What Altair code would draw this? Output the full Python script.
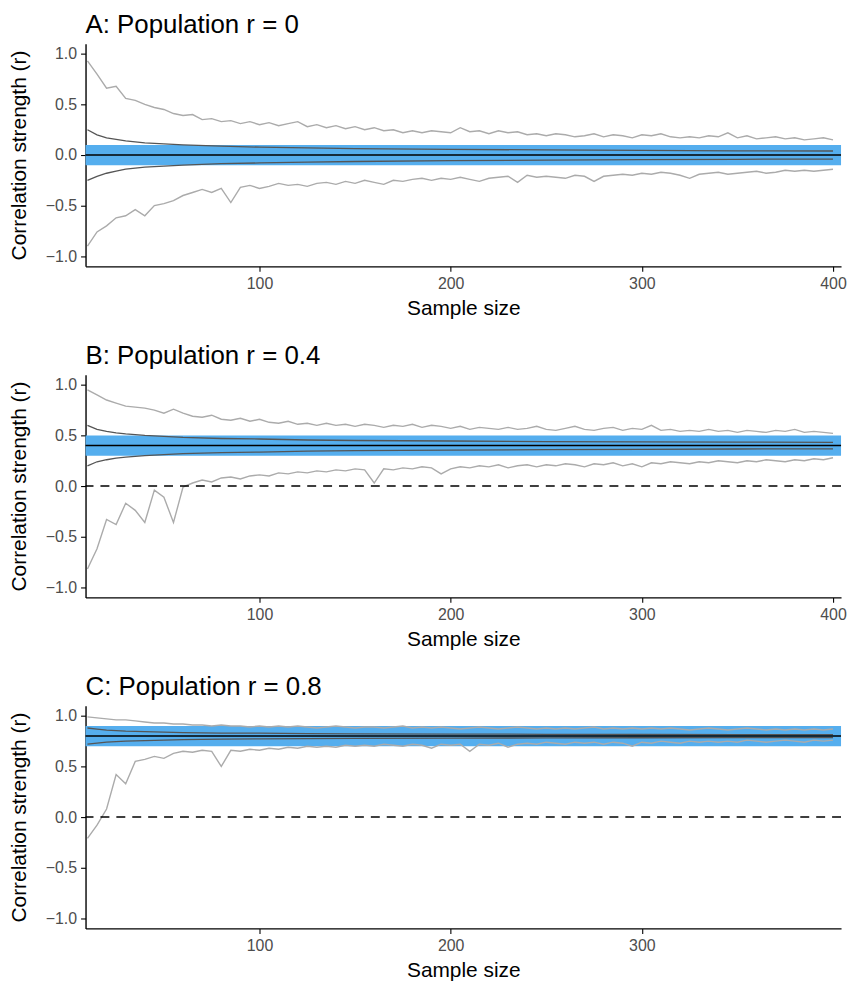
import altair as alt
import pandas as pd

FONT = "Liberation Sans"

# sample sizes for the envelope (max / min) lines
N = list(range(10, 401, 5))

A_MAX = [0.93, 0.80, 0.66, 0.68, 0.56, 0.54, 0.50, 0.47, 0.45, 0.41,
         0.39, 0.40, 0.35, 0.36, 0.33, 0.34, 0.31, 0.33, 0.30, 0.32,
         0.29, 0.31, 0.33, 0.28, 0.30, 0.27, 0.29, 0.26, 0.28, 0.25,
         0.27, 0.24, 0.25, 0.22, 0.24, 0.22, 0.24, 0.23, 0.22, 0.27,
         0.23, 0.24, 0.21, 0.24, 0.22, 0.23, 0.20, 0.21, 0.19, 0.21,
         0.20, 0.18, 0.19, 0.21, 0.18, 0.20, 0.19, 0.17, 0.20, 0.19,
         0.21, 0.18, 0.17, 0.18, 0.17, 0.19, 0.18, 0.22, 0.17, 0.19,
         0.16, 0.17, 0.18, 0.16, 0.17, 0.15, 0.16, 0.17, 0.15]
A_MIN = [-0.90, -0.76, -0.70, -0.62, -0.60, -0.54, -0.60, -0.50, -0.48, -0.45,
         -0.40, -0.37, -0.34, -0.37, -0.33, -0.47, -0.32, -0.30, -0.33, -0.31,
         -0.28, -0.30, -0.29, -0.31, -0.28, -0.27, -0.29, -0.26, -0.28, -0.25,
         -0.27, -0.29, -0.25, -0.26, -0.24, -0.23, -0.25, -0.23, -0.24, -0.22,
         -0.24, -0.26, -0.23, -0.22, -0.21, -0.27, -0.20, -0.22, -0.21, -0.22,
         -0.23, -0.20, -0.21, -0.26, -0.21, -0.20, -0.19, -0.20, -0.18, -0.19,
         -0.17, -0.18, -0.20, -0.23, -0.19, -0.18, -0.17, -0.19, -0.18, -0.17,
         -0.16, -0.18, -0.17, -0.15, -0.16, -0.15, -0.16, -0.15, -0.14]

B_MAX = [0.95, 0.90, 0.85, 0.82, 0.79, 0.78, 0.77, 0.75, 0.72, 0.76,
         0.72, 0.69, 0.68, 0.70, 0.66, 0.65, 0.67, 0.64, 0.66, 0.63,
         0.62, 0.64, 0.61, 0.62, 0.60, 0.62, 0.60, 0.61, 0.59, 0.61,
         0.60, 0.58, 0.60, 0.59, 0.61, 0.58, 0.60, 0.59, 0.57, 0.59,
         0.56, 0.58, 0.57, 0.56, 0.58, 0.56, 0.57, 0.59, 0.56, 0.55,
         0.57, 0.59, 0.56, 0.55, 0.57, 0.58, 0.55, 0.57, 0.56, 0.60,
         0.55, 0.56, 0.54, 0.55, 0.54, 0.56, 0.54, 0.55, 0.53, 0.55,
         0.54, 0.53, 0.55, 0.54, 0.56, 0.53, 0.54, 0.53, 0.52]
B_MIN = [-0.82, -0.62, -0.33, -0.38, -0.17, -0.24, -0.36, -0.04, -0.11, -0.36,
         -0.01, 0.03, 0.06, 0.04, 0.08, 0.09, 0.07, 0.10, 0.11, 0.10,
         0.13, 0.12, 0.14, 0.13, 0.15, 0.14, 0.16, 0.15, 0.17, 0.16,
         0.03, 0.17, 0.16, 0.18, 0.17, 0.19, 0.18, 0.12, 0.17, 0.19,
         0.18, 0.20, 0.19, 0.21, 0.18, 0.20, 0.21, 0.19, 0.21, 0.20,
         0.22, 0.21, 0.19, 0.22, 0.21, 0.23, 0.20, 0.22, 0.19, 0.23,
         0.22, 0.24, 0.23, 0.22, 0.24, 0.23, 0.25, 0.24, 0.23, 0.25,
         0.24, 0.26, 0.25, 0.24, 0.26, 0.25, 0.27, 0.26, 0.28]

C_MAX = [0.99, 0.98, 0.97, 0.96, 0.96, 0.95, 0.94, 0.93, 0.93, 0.92,
         0.92, 0.91, 0.91, 0.90, 0.91, 0.90, 0.90, 0.89, 0.90, 0.89,
         0.90, 0.89, 0.90, 0.89, 0.88, 0.89, 0.90, 0.89, 0.88, 0.89,
         0.89, 0.88, 0.89, 0.90, 0.88, 0.89, 0.88, 0.89, 0.88, 0.87,
         0.88, 0.89, 0.88, 0.87, 0.88, 0.89, 0.88, 0.87, 0.88, 0.87,
         0.88, 0.87, 0.88, 0.89, 0.87, 0.88, 0.87, 0.88, 0.87, 0.88,
         0.87, 0.88, 0.87, 0.86, 0.87, 0.88, 0.87, 0.86, 0.87, 0.88,
         0.87, 0.86, 0.87, 0.86, 0.87, 0.86, 0.87, 0.86, 0.87]
C_MIN = [-0.21, -0.08, 0.08, 0.42, 0.33, 0.55, 0.57, 0.60, 0.58, 0.63,
         0.65, 0.64, 0.66, 0.65, 0.50, 0.66, 0.65, 0.67, 0.66, 0.68,
         0.67, 0.69, 0.68, 0.70, 0.69, 0.70, 0.69, 0.71, 0.70, 0.71,
         0.70, 0.72, 0.71, 0.70, 0.72, 0.71, 0.68, 0.72, 0.71, 0.72,
         0.65, 0.72, 0.71, 0.73, 0.69, 0.72, 0.73, 0.72, 0.74, 0.73,
         0.72, 0.74, 0.73, 0.74, 0.72, 0.74, 0.73, 0.70, 0.74, 0.73,
         0.75, 0.74, 0.73, 0.75, 0.74, 0.75, 0.74, 0.75, 0.74, 0.76,
         0.75, 0.74, 0.75, 0.76, 0.75, 0.74, 0.76, 0.75, 0.76]

# sample sizes for the smooth inner (dark grey) lines
INNER_N = [10, 15, 20, 25, 30, 40, 50, 60, 80, 100, 125, 150, 200, 250, 300, 350, 400]
A_UP = [0.25, 0.20, 0.17, 0.155, 0.14, 0.12, 0.11, 0.10, 0.088, 0.078, 0.07, 0.064, 0.056, 0.05, 0.046, 0.042, 0.04]
A_LO = [-0.25, -0.21, -0.18, -0.16, -0.14, -0.12, -0.11, -0.10, -0.085, -0.078, -0.07, -0.064, -0.056, -0.05, -0.046, -0.042, -0.04]
B_UP = [0.60, 0.56, 0.54, 0.525, 0.515, 0.50, 0.49, 0.48, 0.47, 0.465, 0.455, 0.45, 0.445, 0.44, 0.437, 0.434, 0.432]
B_LO = [0.20, 0.24, 0.26, 0.275, 0.285, 0.30, 0.31, 0.32, 0.33, 0.335, 0.345, 0.35, 0.355, 0.36, 0.363, 0.366, 0.368]
C_UP = [0.88, 0.87, 0.86, 0.855, 0.85, 0.845, 0.84, 0.835, 0.83, 0.83, 0.825, 0.823, 0.82, 0.818, 0.816, 0.815, 0.814]
C_LO = [0.72, 0.73, 0.74, 0.745, 0.75, 0.755, 0.76, 0.765, 0.77, 0.772, 0.775, 0.778, 0.78, 0.782, 0.784, 0.785, 0.786]

TITLES = ["A: Population r = 0", "B: Population r = 0.4", "C: Population r = 0.8"]
POP_R = [0.0, 0.4, 0.8]
X_TICKS = [[100, 200, 300, 400], [100, 200, 300, 400], [100, 200, 300]]
Y_TICKS = [-1.0, -0.5, 0.0, 0.5, 1.0]
BAND_HALF = 0.1
X_DOMAIN = [9, 404.2]
Y_DOMAIN = [-1.1, 1.1]

W, H = 760, 224
BLUE = "#55AEEE"
LIGHT = "#ABABAB"
DARK = "#555555"


def panel(title, r, mx, mn, up, lo, xticks, dashed):
    env = pd.DataFrame({"n": N + N, "r": mx + mn, "s": ["max"] * len(N) + ["min"] * len(N)})
    inner = pd.DataFrame({"n": INNER_N + INNER_N, "r": up + lo,
                          "s": ["upper"] * len(INNER_N) + ["lower"] * len(INNER_N)})
    band = pd.DataFrame({"lo": [r - BAND_HALF], "hi": [r + BAND_HALF]})
    ref = pd.DataFrame({"r": [r]})

    xs = alt.Scale(domain=X_DOMAIN, nice=False, zero=False)
    ys = alt.Scale(domain=Y_DOMAIN, nice=False, zero=False)
    xa = alt.Axis(title="Sample size", values=xticks, format="d")
    ya = alt.Axis(title="Correlation strength (r)", values=Y_TICKS, format=".1f")

    band_l = alt.Chart(band).mark_rect(color=BLUE, opacity=1).encode(
        x=alt.value(0), x2=alt.value(W),
        y=alt.Y("lo:Q", scale=ys, axis=ya), y2="hi:Q")
    env_l = alt.Chart(env).mark_line(color=LIGHT, strokeWidth=1.4).encode(
        x=alt.X("n:Q", scale=xs, axis=xa),
        y=alt.Y("r:Q", scale=ys, axis=ya), detail="s:N")
    inner_l = alt.Chart(inner).mark_line(color=DARK, strokeWidth=1.3).encode(
        x=alt.X("n:Q", scale=xs, axis=xa),
        y=alt.Y("r:Q", scale=ys, axis=ya), detail="s:N")
    ref_l = alt.Chart(ref).mark_rule(color="black", strokeWidth=1.5).encode(
        y=alt.Y("r:Q", scale=ys, axis=ya))
    layers = [band_l, env_l, inner_l, ref_l]
    if dashed:
        zero = pd.DataFrame({"r": [0.0]})
        layers.append(alt.Chart(zero).mark_rule(color="black", strokeWidth=1.5,
                                                 strokeDash=[9, 7]).encode(
            y=alt.Y("r:Q", scale=ys, axis=ya)))
    return alt.layer(*layers).properties(
        width=W, height=H,
        title=alt.TitleParams(text=title, anchor="start", frame="group"))


charts = [
    panel(TITLES[0], POP_R[0], A_MAX, A_MIN, A_UP, A_LO, X_TICKS[0], False),
    panel(TITLES[1], POP_R[1], B_MAX, B_MIN, B_UP, B_LO, X_TICKS[1], True),
    panel(TITLES[2], POP_R[2], C_MAX, C_MIN, C_UP, C_LO, X_TICKS[2], True),
]

chart = alt.vconcat(*charts, spacing=25).properties(
    padding={"left": 0, "top": 1, "right": 0, "bottom": 0}
).configure_axis(
    domainColor="black", domainWidth=1.4, tickColor="black", tickWidth=1.1,
    tickSize=5, labelColor="#4D4D4D", labelFontSize=16, labelFont=FONT,
    titleFont=FONT, titleFontSize=21, titleColor="black", titleFontWeight="normal",
    grid=False, labelPadding=4
).configure_axisX(titlePadding=6).configure_axisY(titlePadding=16).configure_title(
    font=FONT, fontSize=26, fontWeight="normal", color="black", anchor="start",
    offset=6, frame="group"
).configure_view(stroke=None)

chart.save("out.html", embed_options={"renderer": "svg", "actions": False})
